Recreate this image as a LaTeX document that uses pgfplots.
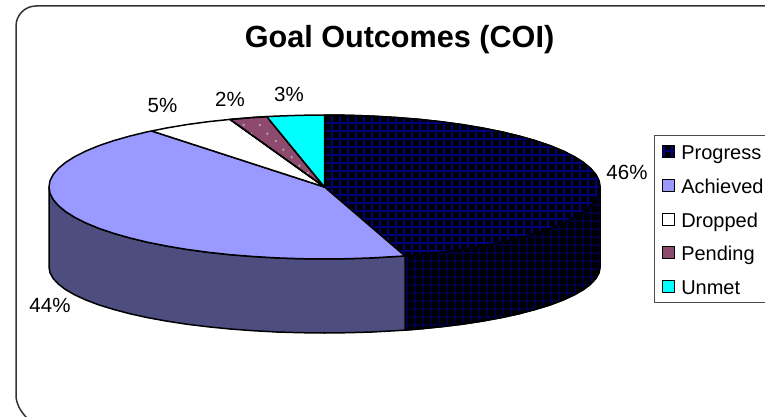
\documentclass[border=0pt]{standalone}
\usepackage{pgfplots}
\pgfplotsset{compat=1.18}
\usepackage{fontspec}
\setmainfont{Liberation Sans}
\usetikzlibrary{patterns}

\definecolor{prognavy}{HTML}{000080}
\definecolor{progside}{HTML}{000040}
\definecolor{achtop}{HTML}{9999FF}
\definecolor{achside}{HTML}{4D4D80}
\definecolor{pendbase}{HTML}{8E4A6E}
\definecolor{penddot}{HTML}{ABABAB}
\definecolor{unmetcyan}{HTML}{00FFFF}

% square cell grid used on the Progress slice
\pgfdeclarepatternformonly{cellgrid}{\pgfpointorigin}{\pgfqpoint{8.3pt}{8.3pt}}{\pgfqpoint{8.3pt}{8.3pt}}{%
  \pgfpathrectangle{\pgfpointorigin}{\pgfqpoint{8.3pt}{2pt}}%
  \pgfpathrectangle{\pgfpointorigin}{\pgfqpoint{2pt}{8.3pt}}%
  \pgfusepath{fill}}
% sparse dots used on the Pending slice
\pgfdeclarepatternformonly{sparsedots}{\pgfpointorigin}{\pgfqpoint{16pt}{16pt}}{\pgfqpoint{16pt}{16pt}}{%
  \pgfpathrectangle{\pgfqpoint{3pt}{3pt}}{\pgfqpoint{2pt}{2pt}}%
  \pgfpathrectangle{\pgfqpoint{11pt}{11pt}}{\pgfqpoint{2pt}{2pt}}%
  \pgfusepath{fill}}

\begin{document}
\begin{tikzpicture}
\begin{axis}[
  at={(0,0)}, anchor=south west,
  scale only axis, width=765pt, height=417pt,
  xmin=0, xmax=765, ymin=0, ymax=417, y dir=reverse,
  hide axis, clip=false,
  legend style={
    at={(0.8549,0.6763)}, anchor=north west,
    draw=black!70, line width=1pt, fill=none,
    font=\fontsize{20}{23}\selectfont,
    inner xsep=7.5pt, inner ysep=6pt,
    row sep=13.8pt, column sep=0pt,
    nodes={text height=18pt, text depth=2pt, inner ysep=0pt, inner xsep=0pt, anchor=west},
  },
  legend cell align=left,
  legend image code/.code={%
    \draw[#1, line width=1pt] (0pt,-6pt) rectangle (12pt,6pt);
    \path (18pt,0pt);
  },
]

% side walls
\addplot[forget plot, line width=1.5pt, draw=black, line join=round, fill=black,
  postaction={pattern=cellgrid, pattern color=progside}] coordinates {
  (600,187) (599,193.3) (595.8,199.5) (590.6,205.6) (583.4,211.6) (574.2,217.4)
  (563.1,223) (550.2,228.3) (535.5,233.3) (519.3,237.9) (501.6,242.2) (482.5,246)
  (462.3,249.4) (440.9,252.3) (418.7,254.7) (405,256)
  (405,330.1) (418.7,329) (440.9,326.8) (462.3,324.2) (482.5,321.1) (501.6,317.6)
  (519.3,313.7) (535.5,309.4) (550.2,304.9) (563.1,300) (574.2,294.9) (583.4,289.6)
  (590.6,284.1) (595.8,278.5) (599,272.8) (600,267)
} -- cycle;
\addplot[forget plot, line width=1.5pt, draw=black, line join=round, fill=achside] coordinates {
  (405,256) (395.8,256.5) (372.3,257.9) (348.5,258.7) (324.5,259) (300.5,258.7)
  (276.7,257.9) (253.2,256.5) (230.3,254.7) (208.1,252.3) (186.7,249.4) (166.5,246)
  (147.4,242.2) (129.7,237.9) (113.5,233.3) (98.8,228.3) (85.9,223) (74.8,217.4)
  (65.6,211.6) (58.4,205.6) (53.2,199.5) (50,193.3) (49,187)
  (49,267) (50,272.8) (53.2,278.5) (58.4,284.1) (65.6,289.6) (74.8,294.9) (85.9,300)
  (98.8,304.9) (113.5,309.4) (129.7,313.7) (147.4,317.6) (166.5,321.1) (186.7,324.2)
  (208.1,326.8) (230.3,329) (253.2,330.7) (276.7,332) (300.5,332.7) (324.5,333)
  (348.5,332.7) (372.3,332) (395.8,330.7) (405,330.1)
} -- cycle;

% top face: Progress
\addplot[line width=1.5pt, draw=black, line join=round, fill=black,
  postaction={pattern=cellgrid, pattern color=prognavy}] coordinates {
  (324.5,187) (324.5,115) (348.5,115.3) (372.3,116.1) (395.8,117.5) (418.7,119.3)
  (440.9,121.7) (462.3,124.6) (482.5,128) (501.6,131.8) (519.3,136.1) (535.5,140.7)
  (550.2,145.7) (563.1,151) (574.2,156.6) (583.4,162.4) (590.6,168.4) (595.8,174.5)
  (599,180.7) (600,187) (599,193.3) (595.8,199.5) (590.6,205.6) (583.4,211.6)
  (574.2,217.4) (563.1,223) (550.2,228.3) (535.5,233.3) (519.3,237.9) (501.6,242.2)
  (482.5,246) (462.3,249.4) (440.9,252.3) (418.7,254.7) (405,256)
} -- cycle;
\addlegendentry{Progress}

% top face: Achieved
\addplot[line width=1.5pt, draw=black, line join=round, fill=achtop] coordinates {
  (324.5,187) (405,256) (395.8,256.5) (372.3,257.9) (348.5,258.7) (324.5,259)
  (300.5,258.7) (276.7,257.9) (253.2,256.5) (230.3,254.7) (208.1,252.3) (186.7,249.4)
  (166.5,246) (147.4,242.2) (129.7,237.9) (113.5,233.3) (98.8,228.3) (85.9,223)
  (74.8,217.4) (65.6,211.6) (58.4,205.6) (53.2,199.5) (50,193.3) (49,187) (50,180.7)
  (53.2,174.5) (58.4,168.4) (65.6,162.4) (74.8,156.6) (85.9,151) (98.8,145.7)
  (113.5,140.7) (129.7,136.1) (147.4,131.8) (151.7,131)
} -- cycle;
\addlegendentry{Achieved}

% top face: Dropped
\addplot[line width=1.5pt, draw=black, line join=round, fill=white] coordinates {
  (324.5,187) (151.7,131) (166.5,128) (186.7,124.6) (208.1,121.7) (230,119.4)
} -- cycle;
\addlegendentry{Dropped}

% top face: Pending
\addplot[line width=1.5pt, draw=black, line join=round, fill=pendbase,
  postaction={pattern=sparsedots, pattern color=penddot}] coordinates {
  (324.5,187) (230,119.4) (253.2,117.5) (266.8,116.6)
} -- cycle;
\addlegendentry{Pending}

% top face: Unmet
\addplot[line width=1.5pt, draw=black, line join=round, fill=unmetcyan] coordinates {
  (324.5,187) (266.8,116.6) (276.7,116.1) (300.5,115.3) (324.5,115)
} -- cycle;
\addlegendentry{Unmet}

% percentages
\node[font=\fontsize{20.5}{23}\selectfont] at (axis cs:627,172) {46\%};
\node[font=\fontsize{20.5}{23}\selectfont] at (axis cs:50,305) {44\%};
\node[font=\fontsize{20.5}{23}\selectfont] at (axis cs:162.5,105) {5\%};
\node[font=\fontsize{20.5}{23}\selectfont] at (axis cs:230,99) {2\%};
\node[font=\fontsize{20.5}{23}\selectfont] at (axis cs:289,94.5) {3\%};

% title
\node[font=\fontsize{30.6}{34}\bfseries] at (axis cs:399.5,39.5) {Goal Outcomes (COI)};

% rounded chart frame, running off the page at right and bottom
\draw[black!80, line width=1.5pt, line cap=round]
  (axis cs:765,6) -- (axis cs:36,6)
  .. controls (axis cs:25,6) and (axis cs:16,15) .. (axis cs:16,26)
  -- (axis cs:16,395)
  .. controls (axis cs:16,403) and (axis cs:20,411) .. (axis cs:27,418);
\end{axis}
\pgfresetboundingbox
\path[use as bounding box] (0,0) rectangle (765pt,417pt);
\end{tikzpicture}
\end{document}
